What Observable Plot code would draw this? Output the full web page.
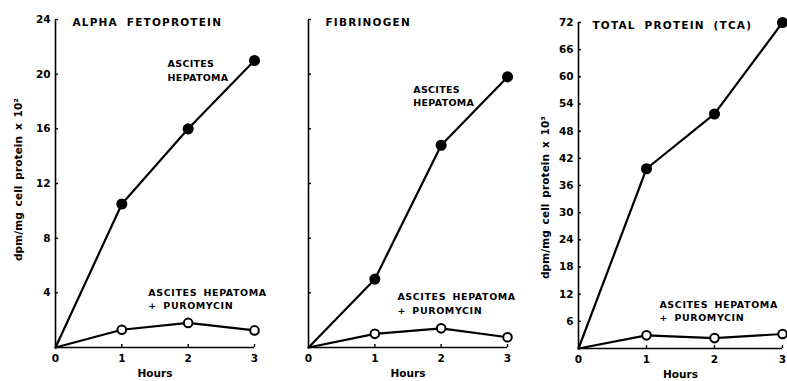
<!DOCTYPE html>
<html>
<head>
<meta charset="utf-8">
<script src="https://cdn.jsdelivr.net/npm/d3@7"></script>
<script src="https://cdn.jsdelivr.net/npm/@observablehq/plot@0.6"></script>
<style>
  html, body { margin: 0; padding: 0; background: #fff; }
  #row { display: flex; width: 787px; height: 381px; overflow: hidden; background: #fff; }
  #row svg { display: block; overflow: visible; }
</style>
</head>
<body>
<div id="row"></div>
<script>
// ---- data ----
const hours = [0, 1, 2, 3];
const xTicks = [0, 1, 2, 3];

const afpHepatoma = [0, 10.5, 16.0, 21.0];
const afpPuromycin = [0, 1.3, 1.8, 1.25];
const fibHepatoma = [0, 5.0, 14.8, 19.8];
const fibPuromycin = [0, 1.0, 1.4, 0.75];
const tcaHepatoma = [0, 39.7, 51.8, 72.0];
const tcaPuromycin = [0, 2.9, 2.3, 3.2];

const yTicksX100 = [4, 8, 12, 16, 20, 24];
const yTicksX1000 = [6, 12, 18, 24, 30, 36, 42, 48, 54, 60, 66, 72];

const titles = ["ALPHA FETOPROTEIN", "FIBRINOGEN", "TOTAL PROTEIN (TCA)"];
const yLabels = ["dpm/mg cell protein x 10²", "", "dpm/mg cell protein x 10³"];
const hepText = "ASCITES\nHEPATOMA";
const puroText = "ASCITES HEPATOMA\n+ PUROMYCIN";

// label anchors in data units (hours, value)
const afpNotes = [{x: 1.69, y: 21.2, t: hepText}];
const afpPuroNotes = [{x: 1.40, y: 4.45, t: puroText}];
const fibNotes = [{x: 1.58, y: 19.3, t: hepText}];
const fibPuroNotes = [{x: 1.34, y: 4.15, t: puroText}];
const tcaNotes = [];
const tcaPuroNotes = [{x: 1.19, y: 11.1, t: puroText}];

function series(vals) { return hours.map((h, i) => ({h, v: vals[i]})); }

const FONT = "'DejaVu Sans', 'Liberation Sans', Arial, sans-serif";

function panel(o) {
  const hep = series(o.hep), puro = series(o.puro);
  const fw = o.w - o.ml - o.mr, fh = 381 - o.mt - o.mb;
  const svg = Plot.plot({
    width: o.w, height: 381,
    marginLeft: o.ml, marginRight: o.mr, marginTop: o.mt, marginBottom: o.mb,
    style: {fontFamily: FONT, fontWeight: "bold", fontSize: "11px", color: "#000", background: "transparent", overflow: "visible"},
    x: {domain: [0, 3]},
    y: {domain: o.yDomain},
    marks: [
      Plot.ruleX([0], {stroke: "#000", strokeWidth: 1.6}),
      Plot.ruleY([0], {stroke: "#000", strokeWidth: 1.6}),
      Plot.tickY(o.yTicks, {insetRight: fw - 3, stroke: "#000", strokeWidth: 1.4}),
      Plot.tickX(xTicks.slice(1), {insetTop: fh - 3, stroke: "#000", strokeWidth: 1.4}),
      Plot.axisY({ticks: o.yTicks, tickSize: 0, tickPadding: 5, label: null,
        tickFormat: o.showY ? (d => String(d)) : (() => ""), fontSize: 10.5, fontWeight: "bold"}),
      Plot.axisX({ticks: xTicks, tickSize: 0, tickPadding: 7, label: null, tickFormat: d => String(d),
        fontSize: 10.5, fontWeight: "bold"}),
      Plot.text(["Hours"], {frameAnchor: "bottom", dy: o.hoursDy, lineAnchor: "middle", textAnchor: "middle",
        fontSize: 10.5, fontWeight: "bold"}),
      Plot.text([o.title], {frameAnchor: "top-left", dx: o.titleDx, dy: 3, textAnchor: "start", lineAnchor: "middle",
        fontSize: 10.5, fontWeight: "bold"}),
      o.yLabel ? Plot.text([o.yLabel], {frameAnchor: "left", dx: -o.labelOff, dy: o.labelDy, rotate: -90,
        textAnchor: "middle", lineAnchor: "middle", fontSize: 10.5, fontWeight: "bold"}) : null,
      Plot.line(hep, {x: "h", y: "v", stroke: "#000", strokeWidth: 2.2}),
      Plot.line(puro, {x: "h", y: "v", stroke: "#000", strokeWidth: 2.2}),
      Plot.dot(hep.filter(d => d.h > 0), {x: "h", y: "v", r: 4.8, fill: "#000", stroke: "#000"}),
      Plot.dot(puro.filter(d => d.h > 0), {x: "h", y: "v", r: 4.3, fill: "#fff", stroke: "#000", strokeWidth: 2}),
      Plot.text(o.notes, {x: "x", y: "y", text: "t", textAnchor: "start", lineAnchor: "top", lineHeight: 1.4,
        fontSize: 9.5, fontWeight: "bold"}),
      Plot.text(o.puroNotes, {x: "x", y: "y", text: "t", textAnchor: "start", lineAnchor: "top", lineHeight: 1.4,
        fontSize: 9.5, fontWeight: "bold"})
    ]
  });
  // typographic spacing (style only)
  const norm = s => s.replace(/\s+/g, "");
  d3.select(svg).selectAll("text").each(function() {
    const t = norm(this.textContent);
    let ls = null, ws = null;
    if (titles.some(s => norm(s) === t)) { ls = "1.2px"; ws = "4px"; }
    else if (t === norm(hepText)) { ls = "0.3px"; }
    else if (t === norm(puroText)) { ls = "0.6px"; ws = "2.5px"; }
    else if (yLabels.some(s => s && norm(s) === t)) { ls = "0.1px"; ws = "2px"; }
    if (ls) this.style.letterSpacing = ls;
    if (ws) this.style.wordSpacing = ws;
  });
  return svg;
}

const row = document.getElementById("row");
row.appendChild(panel({w: 262, ml: 55, mr: 8, mt: 19, mb: 34, yDomain: [0, 24], yTicks: yTicksX100, showY: true,
  hep: afpHepatoma, puro: afpPuromycin, title: titles[0], titleDx: 17, yLabel: yLabels[0], labelOff: 37, labelDy: -4,
  notes: afpNotes, puroNotes: afpPuroNotes, hoursDy: 26}));
row.appendChild(panel({w: 262, ml: 46, mr: 17, mt: 19, mb: 34, yDomain: [0, 24], yTicks: yTicksX100, showY: false,
  hep: fibHepatoma, puro: fibPuromycin, title: titles[1], titleDx: 17, yLabel: null,
  notes: fibNotes, puroNotes: fibPuroNotes, hoursDy: 26}));
row.appendChild(panel({w: 263, ml: 54, mr: 5, mt: 22, mb: 33, yDomain: [0, 72], yTicks: yTicksX1000, showY: true,
  hep: tcaHepatoma, puro: tcaPuromycin, title: titles[2], titleDx: 14, yLabel: yLabels[2], labelOff: 33, labelDy: 12,
  notes: tcaNotes, puroNotes: tcaPuroNotes, hoursDy: 26}));
</script>
</body>
</html>
